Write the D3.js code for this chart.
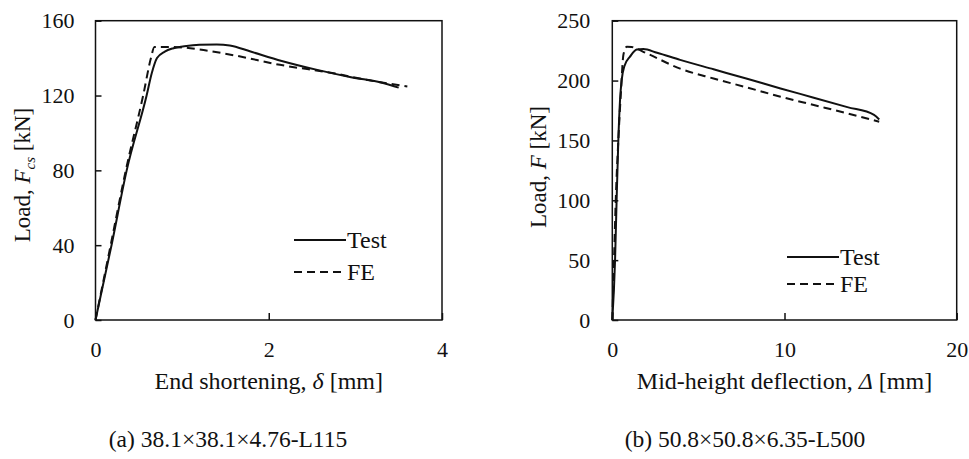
<!DOCTYPE html>
<html>
<head>
<meta charset="utf-8">
<script src="https://cdn.jsdelivr.net/npm/d3@7"></script>
<style>
  body { margin: 0; background: #fff; }
  svg text { font-family: "Liberation Serif", "Times New Roman", serif; fill: #111; }
  .curve { fill: none; stroke: #111; stroke-width: 2; }
  .curve.fe { stroke-dasharray: 8,5; }
</style>
</head>
<body>
<svg id="chart" width="969" height="459"></svg>
<script>
"use strict";

// panel (a): end shortening [mm] vs load [kN]
let testA = [[0,0],[0.185,40],[0.36,80],[0.59,120],[0.65,132],[0.71,140],[0.8,143.5],[0.9,145.3],
  [1.05,146.5],[1.2,147.1],[1.4,147.3],[1.55,146.8],[1.79,143.5],[2.15,138.5],[2.56,133.7],[2.95,129.8],
  [3.33,126.6],[3.5,124.2]];
let feA = [[0,0],[0.175,40],[0.35,80],[0.55,120],[0.64,140],[0.68,146],[0.8,146],[1.0,145.7],[1.2,144.6],
  [1.6,141.5],[2.13,136.4],[2.75,131.9],[3.14,128.3],[3.6,124.8]];
let ticksAx = [0, 2, 4];
let ticksAy = [0, 40, 80, 120, 160];

// panel (b): mid-height deflection [mm] vs load [kN]
let testB = [[0,0],[0.16,50],[0.25,100],[0.35,150],[0.45,184],[0.54,200],[0.7,212],[1.03,220],[1.42,226],
  [1.8,226.3],[2.6,223.2],[3.94,217.3],[5.88,209.4],[7.83,201.5],[9.77,193.4],[11.7,185.7],[13.65,177.8],
  [15.2,171.4],[15.5,167.5]];
let feB = [[0,0],[0.1,50],[0.2,100],[0.35,150],[0.5,190],[0.65,222],[0.85,228.3],[1.13,228],[2.0,222.7],
  [3.94,210],[5.88,201.7],[7.83,194.2],[9.77,186.5],[11.7,179.6],[13.65,172.6],[15.5,165.6]];
let ticksBx = [0, 10, 20];
let ticksBy = [0, 50, 100, 150, 200, 250];

let svg = d3.select('#chart');

function panel(opt) {
  let x = d3.scaleLinear().domain(opt.xDomain).range([opt.left, opt.right]);
  let y = d3.scaleLinear().domain(opt.yDomain).range([320, 20.7]);
  let g = svg.append('g');

  // frame
  g.append('rect')
    .attr('x', opt.left).attr('y', 20.7)
    .attr('width', opt.right - opt.left).attr('height', 320 - 20.7)
    .style('fill', 'none').style('stroke', '#111').style('stroke-width', 1.5);

  // axes, ticks pointing inward
  let fmt = d3.format('d');
  let yAxis = g.append('g')
    .attr('transform', `translate(${opt.left},0)`)
    .call(d3.axisLeft(y).tickValues(opt.yTicks).tickFormat(fmt)
      .tickSizeInner(-6).tickSizeOuter(0).tickPadding(opt.yPad));
  let xAxis = g.append('g')
    .attr('transform', 'translate(0,320)')
    .call(d3.axisBottom(x).tickValues(opt.xTicks).tickFormat(fmt)
      .tickSizeInner(-7).tickSizeOuter(0).tickPadding(21));
  [yAxis, xAxis].forEach(a => {
    a.select('.domain').remove();
    a.selectAll('line').style('stroke', '#111').style('stroke-width', 1.5);
    a.selectAll('text').style('font-size', '22px').style('font-family', '"Liberation Serif", serif').style('fill', '#111');
  });

  let line = d3.line().curve(d3.curveMonotoneX).x(d => x(d[0])).y(d => y(d[1]));
  g.append('path').datum(opt.test).attr('class', 'curve').attr('d', line);
  g.append('path').datum(opt.fe).attr('class', 'curve fe').attr('d', line);

  // legend
  let lg = opt.legend;
  g.append('line').attr('x1', lg.x).attr('x2', lg.x + 52).attr('y1', lg.y1).attr('y2', lg.y1)
    .attr('class', 'curve');
  g.append('line').attr('x1', lg.x).attr('x2', lg.x + 52).attr('y1', lg.y2).attr('y2', lg.y2)
    .attr('class', 'curve fe');
  g.append('text').attr('x', lg.x + 53).attr('y', lg.y1).attr('dy', '0.35em')
    .style('font-size', '24px').text('Test');
  g.append('text').attr('x', lg.x + 53).attr('y', lg.y2).attr('dy', '0.35em')
    .style('font-size', '24px').text('FE');

  // x title
  let xt = g.append('text')
    .attr('x', (opt.left + opt.right) / 2).attr('y', 389)
    .attr('text-anchor', 'middle').style('font-size', '24px');
  xt.append('tspan').text(opt.xTitle[0]);
  xt.append('tspan').style('font-style', 'italic').text(opt.xTitle[1]);
  xt.append('tspan').text(opt.xTitle[2]);

  // y title
  let yt = g.append('text')
    .attr('transform', `translate(${opt.yTitleX},${opt.yTitleY}) rotate(-90)`)
    .attr('text-anchor', 'middle').attr('dy', '0.35em').style('font-size', '23px');
  yt.append('tspan').text('Load, ');
  yt.append('tspan').style('font-style', 'italic').text('F');
  if (opt.sub) {
    yt.append('tspan').style('font-style', 'italic').style('font-size', '15px')
      .attr('dy', '5').text(opt.sub);
    yt.append('tspan').attr('dy', '-5').text(' [kN]');
  } else {
    yt.append('tspan').text('  [kN]');
  }

  // caption
  g.append('text').attr('x', opt.capX).attr('y', 447)
    .attr('text-anchor', 'middle').style('font-size', '23.5px').text(opt.caption);
}

panel({
  xDomain: [0, 4], yDomain: [0, 160], left: 95.5, right: 442,
  xTicks: ticksAx, yTicks: ticksAy, yPad: 21,
  test: testA, fe: feA,
  legend: { x: 294, y1: 240, y2: 272 },
  xTitle: ['End shortening, ', 'δ', ' [mm]'],
  yTitleX: 22, yTitleY: 175, sub: 'cs',
  capX: 228, caption: '(a) 38.1×38.1×4.76-L115'
});

panel({
  xDomain: [0, 20], yDomain: [0, 250], left: 612.3, right: 956.7,
  xTicks: ticksBx, yTicks: ticksBy, yPad: 22,
  test: testB, fe: feB,
  legend: { x: 787, y1: 257, y2: 284 },
  xTitle: ['Mid-height deflection, ', 'Δ', ' [mm]'],
  yTitleX: 538, yTitleY: 167, sub: null,
  capX: 745, caption: '(b) 50.8×50.8×6.35-L500'
});
</script>
</body>
</html>
